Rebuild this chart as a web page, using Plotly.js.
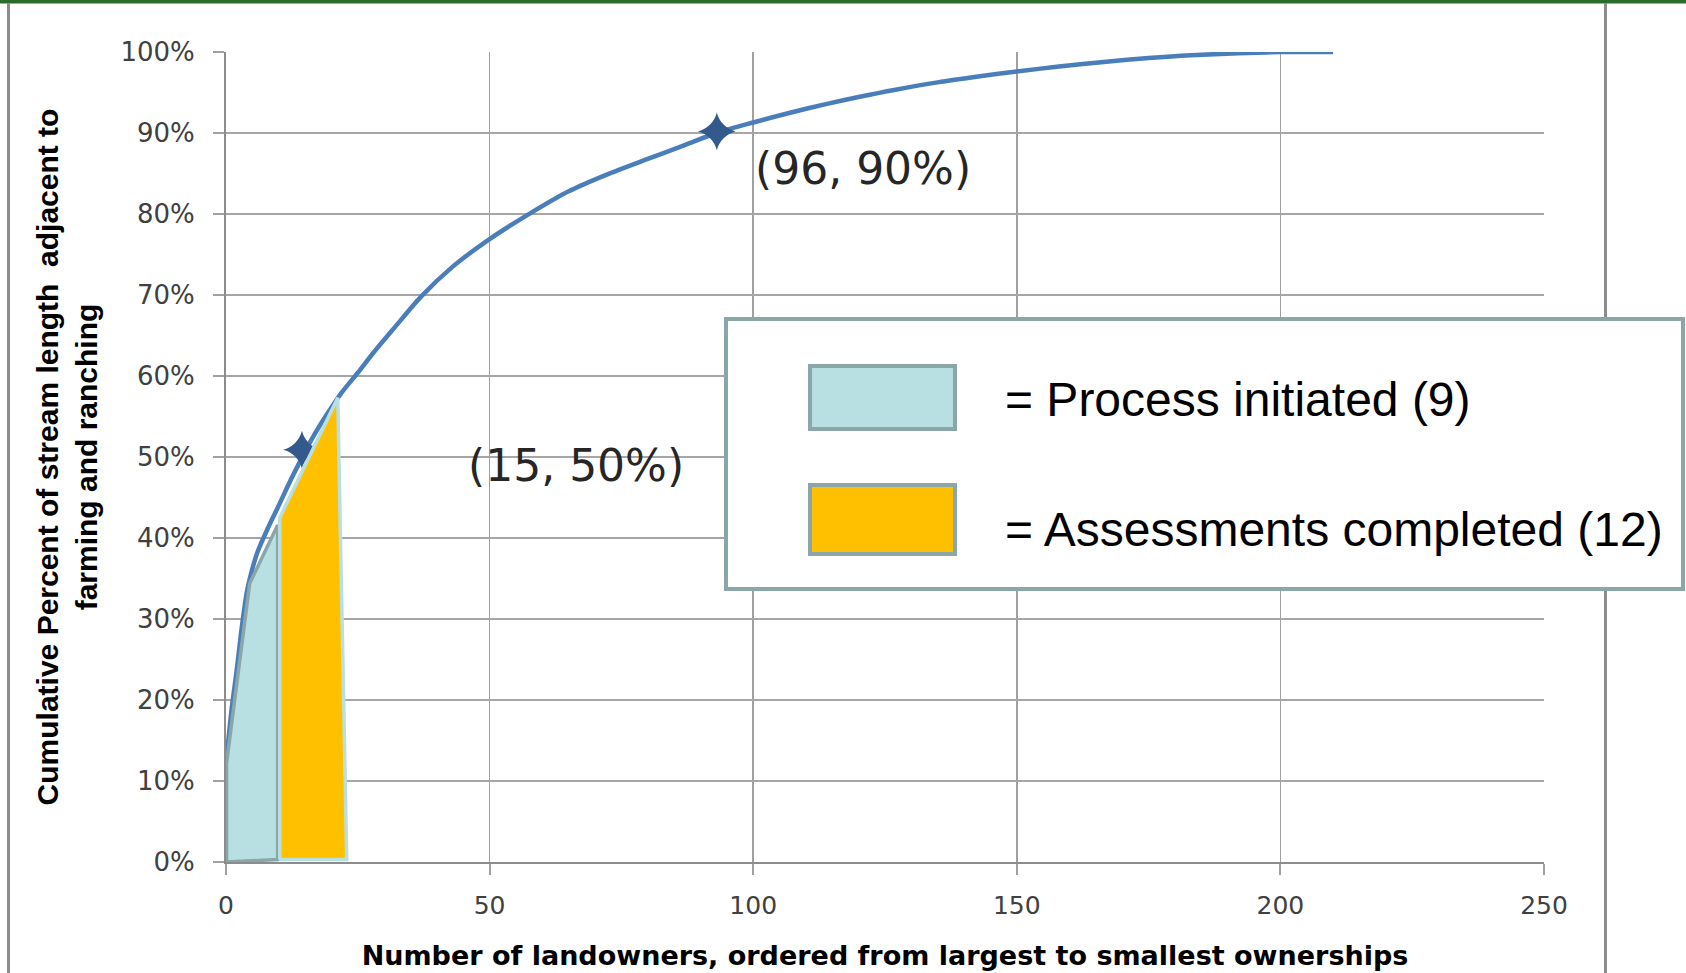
<!DOCTYPE html>
<html>
<head>
<meta charset="utf-8">
<script src="https://cdn.plot.ly/plotly-3.0.1.min.js"></script>
<style>
  html, body { margin: 0; padding: 0; background: #ffffff; }
  #chart { width: 1686px; height: 973px; }
</style>
</head>
<body>
<div id="chart"></div>
<script>
// ---- data ----
const landowners = [0, 1, 2, 3, 4, 5, 6, 8, 10, 12, 14, 16, 18, 20, 22, 25, 28, 32, 37, 43, 50, 58, 65, 72, 80, 87, 93, 100, 107, 114, 120, 127, 135, 143, 150, 158, 167, 175, 183, 192, 200, 210];
const cumulativePct = [12, 18.5, 23.5, 29, 33.5, 36.2, 38.3, 41.3, 44, 46.8, 49.4, 51.9, 54.1, 56.1, 58.0, 60.4, 62.9, 66.0, 69.8, 73.5, 76.9, 80.2, 82.8, 84.8, 86.8, 88.5, 90.0, 91.3, 92.5, 93.6, 94.45, 95.35, 96.25, 97.0, 97.6, 98.2, 98.8, 99.25, 99.6, 99.85, 100, 100];

const markX = [14.4, 93.1];
const markY = [50.9, 90.2];
const markLabels = ["(15, 50%)", "(96, 90%)"];
const markLabelX = [45.5, 100];
const markLabelY = [48.9, 85.6];

const initiatedX = [0.1, 0.1, 4.5, 9.8, 9.8, 0.1];
const initiatedY = [0, 12.2, 34.4, 41.6, 0.3, 0];
const completedX = [10.2, 10.2, 21.2, 22.9, 10.2];
const completedY = [0.3, 42.5, 57.3, 0.3, 0.3];

const legendLabels = ["= Process initiated (9)", "= Assessments completed (12)"];
const legendColors = ["#b8dfe1", "#ffc000"];

const xTitle = "Number of landowners, ordered from largest to smallest ownerships";
const yTitle = "Cumulative Percent of stream length  adjacent to<br>farming and ranching";

// ---- layout geometry (pixels) ----
const W = 1686, H = 973;
const L = 226, R = 1544, T = 52, B = 862;
const pw = R - L, ph = B - T;
const px = v => (v - L) / pw;
const py = v => (B - v) / ph;

const traces = [
  {
    x: landowners, y: cumulativePct, type: "scatter", mode: "lines",
    line: { color: "#4a7ebb", width: 4.5, shape: "spline", smoothing: 0.8 },
    showlegend: false, hoverinfo: "skip"
  },
  {
    x: markX, y: markY, type: "scatter", mode: "markers",
    marker: { symbol: "star-diamond", size: 27, color: "#34598c", line: { width: 0 } },
    showlegend: false, hoverinfo: "skip"
  },
  {
    x: initiatedX, y: initiatedY, type: "scatter", mode: "lines", fill: "toself",
    fillcolor: legendColors[0], line: { color: "#8aa6a8", width: 3.5 },
    showlegend: false, hoverinfo: "skip"
  },
  {
    x: completedX, y: completedY, type: "scatter", mode: "lines", fill: "toself",
    fillcolor: legendColors[1], line: { color: "#b8dfe1", width: 3.5 },
    showlegend: false, hoverinfo: "skip"
  }
];

const annotations = [];
for (let i = 0; i < markLabels.length; i++) {
  annotations.push({
    x: markLabelX[i], y: markLabelY[i], xref: "x", yref: "y",
    text: markLabels[i], showarrow: false, xanchor: "left", yanchor: "middle",
    font: { family: "DejaVu Sans", size: 44, color: "#262626" }
  });
}
const legendTextY = [400, 529];
for (let i = 0; i < legendLabels.length; i++) {
  annotations.push({
    x: px(1003), y: py(legendTextY[i]), xref: "paper", yref: "paper",
    text: legendLabels[i], showarrow: false, xanchor: "left", yanchor: "middle",
    font: { family: "Liberation Sans, Arial, sans-serif", size: 48, color: "#000000" }
  });
}

const shapes = [
  // outer frame
  { type: "rect", xref: "paper", yref: "paper", x0: px(0), x1: px(W), y0: py(3.5), y1: py(0),
    fillcolor: "#2b6b2b", line: { width: 0 }, layer: "above" },
  { type: "line", xref: "paper", yref: "paper", x0: px(8.5), x1: px(8.5), y0: py(3), y1: py(H),
    line: { color: "#8c8c8c", width: 3 }, layer: "above" },
  { type: "line", xref: "paper", yref: "paper", x0: px(1605.5), x1: px(1605.5), y0: py(3), y1: py(H),
    line: { color: "#8c8c8c", width: 3 }, layer: "above" },
  // legend box
  { type: "rect", xref: "paper", yref: "paper", x0: px(726), x1: px(1683), y0: py(589), y1: py(319),
    fillcolor: "#ffffff", line: { color: "#8aa6a8", width: 4 }, layer: "above" },
  { type: "rect", xref: "paper", yref: "paper", x0: px(810), x1: px(955), y0: py(429), y1: py(366),
    fillcolor: legendColors[0], line: { color: "#8aa6a8", width: 4 }, layer: "above" },
  { type: "rect", xref: "paper", yref: "paper", x0: px(810), x1: px(955), y0: py(554), y1: py(485),
    fillcolor: legendColors[1], line: { color: "#8aa6a8", width: 4 }, layer: "above" }
];

const layout = {
  width: W, height: H,
  margin: { l: L, r: W - R, t: T, b: H - B, pad: 0 },
  paper_bgcolor: "#ffffff", plot_bgcolor: "#ffffff",
  showlegend: false,
  xaxis: {
    range: [0, 250], dtick: 50, tick0: 0,
    showgrid: true, gridcolor: "#a0a0a0", gridwidth: 1.5,
    showline: true, linecolor: "#8c8c8c", linewidth: 2,
    ticks: "outside", ticklen: 11, tickcolor: "#a0a0a0", tickwidth: 2,
    ticklabelstandoff: 9,
    tickfont: { family: "DejaVu Sans", size: 25, color: "#404040" },
    zeroline: false, fixedrange: true,
    title: { text: "<b>" + xTitle + "</b>", standoff: 27,
             font: { family: "DejaVu Sans", size: 27, color: "#000000" } }
  },
  yaxis: {
    range: [0, 100], dtick: 10, tick0: 0, ticksuffix: "%",
    showgrid: true, gridcolor: "#a6a6a6", gridwidth: 2,
    showline: true, linecolor: "#8c8c8c", linewidth: 2,
    ticks: "outside", ticklen: 11, tickcolor: "#a0a0a0", tickwidth: 2,
    ticklabelstandoff: 13,
    tickfont: { family: "DejaVu Sans", size: 26, color: "#404040" },
    zeroline: false, fixedrange: true,
    title: { text: "<b>" + yTitle + "</b>", standoff: 14,
             font: { family: "Liberation Sans, Arial, sans-serif", size: 30, color: "#000000" } }
  },
  annotations: annotations,
  shapes: shapes
};

Plotly.newPlot("chart", traces, layout, { displayModeBar: false, staticPlot: true });
</script>
</body>
</html>
